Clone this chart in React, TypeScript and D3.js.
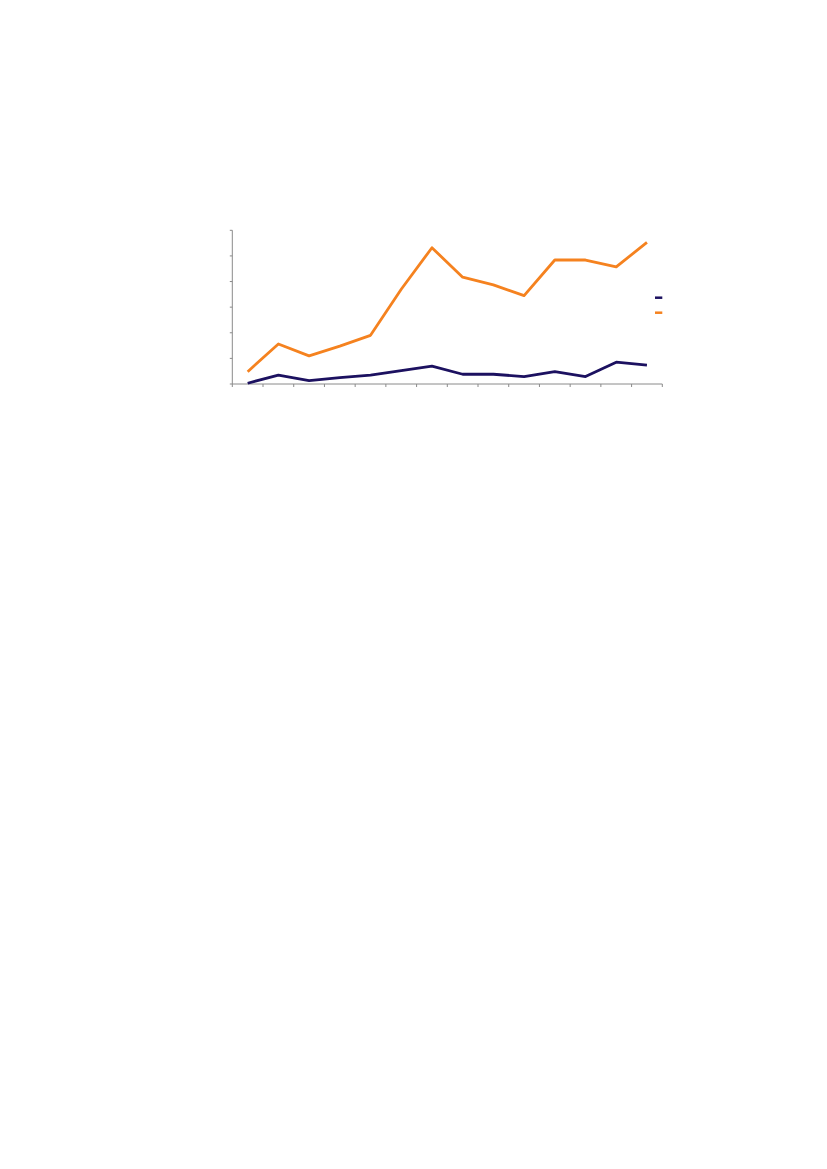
import { useEffect, useRef } from 'react'
import * as d3 from 'd3'

const W = 827, H = 1169
const M = { left: 232.3, top: 230.3, right: 662.3, bottom: 384 }

// 14 categories, labels not rendered in the original
const categories = ['1', '2', '3', '4', '5', '6', '7', '8', '9', '10', '11', '12', '13', '14']
const seriesA = [0.03, 0.35, 0.13, 0.25, 0.35, 0.52, 0.7, 0.38, 0.38, 0.29, 0.48, 0.29, 0.85, 0.74]
const seriesB = [0.48, 1.56, 1.1, 1.48, 1.9, 3.7, 5.32, 4.17, 3.87, 3.45, 4.84, 4.84, 4.57, 5.53]
const yTicks = [0, 1, 2, 3, 4, 5, 6]

const NAVY = '#1c1160'
const ORANGE = '#f5821f'
const AXIS = '#8a8a8a'

export default function App() {
  const svgRef = useRef<SVGSVGElement>(null)

  useEffect(() => {
    const svg = d3.select(svgRef.current!)
    svg.selectAll('*').remove()

    const x = d3.scaleBand<string>().domain(categories).range([M.left, M.right])
    const y = d3.scaleLinear().domain([0, 6]).range([M.bottom, M.top])
    const cx = (i: number) => x(categories[i])! + x.bandwidth() / 2

    // Y axis
    svg.append('line')
      .attr('x1', M.left).attr('x2', M.left).attr('y1', y(6)).attr('y2', y(0))
      .attr('stroke', AXIS).attr('stroke-width', 1)
    yTicks.forEach(t => {
      svg.append('line')
        .attr('x1', M.left - 2.5).attr('x2', M.left).attr('y1', y(t)).attr('y2', y(t))
        .attr('stroke', AXIS).attr('stroke-width', 1)
    })

    // X axis with ticks between categories
    svg.append('line')
      .attr('x1', M.left).attr('x2', M.right).attr('y1', M.bottom).attr('y2', M.bottom)
      .attr('stroke', AXIS).attr('stroke-width', 1)
    const edges = categories.map(c => x(c)!).concat([M.right])
    edges.forEach(ex => {
      svg.append('line')
        .attr('x1', ex).attr('x2', ex).attr('y1', M.bottom).attr('y2', M.bottom + 3)
        .attr('stroke', AXIS).attr('stroke-width', 1)
    })

    const line = d3.line<number>().x((_, i) => cx(i)).y(v => y(v))

    svg.append('path').datum(seriesB)
      .attr('fill', 'none').attr('stroke', ORANGE).attr('stroke-width', 2.8)
      .attr('stroke-linejoin', 'round').attr('d', line)
    svg.append('path').datum(seriesA)
      .attr('fill', 'none').attr('stroke', NAVY).attr('stroke-width', 2.8)
      .attr('stroke-linejoin', 'round').attr('d', line)

    // Legend swatches
    const legend = [
      { color: NAVY, y: 297.7 },
      { color: ORANGE, y: 312.7 },
    ]
    legend.forEach(({ color, y: ly }) => {
      svg.append('line')
        .attr('x1', 655).attr('x2', 662.3).attr('y1', ly).attr('y2', ly)
        .attr('stroke', color).attr('stroke-width', 2.5)
    })
  }, [])

  return (
    <svg ref={svgRef} width={W} height={H} viewBox={`0 0 ${W} ${H}`}
      style={{ position: 'absolute', left: 0, top: 0, background: '#fff' }} />
  )
}
